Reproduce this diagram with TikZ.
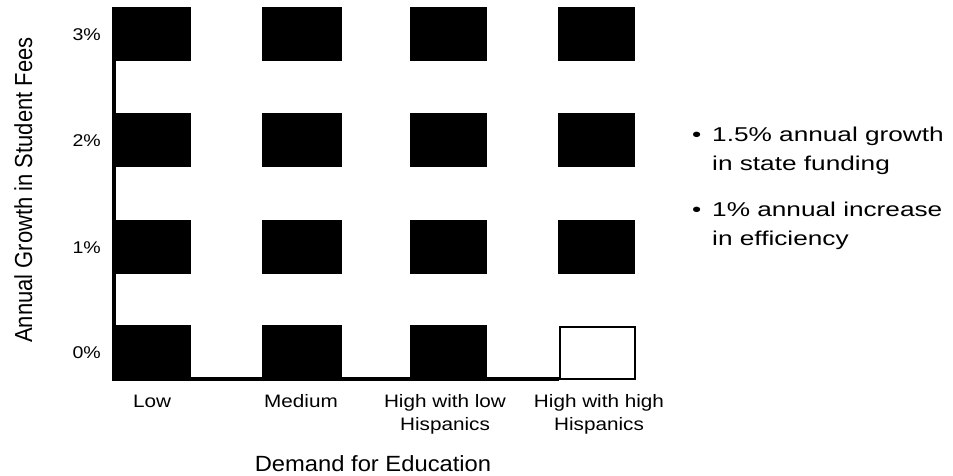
\documentclass[tikz,border=0pt]{standalone}
\usepackage{graphicx}
\usepackage{fontspec}
\setmainfont{Liberation Sans}
\newfontfamily\tickf{Liberation Sans}[FakeStretch=1.15]
\newfontfamily\bulf{Liberation Sans}[FakeStretch=1.31]
\newfontfamily\xtitf{Liberation Sans}[FakeStretch=1.08]
\begin{document}
\begin{tikzpicture}[x=1pt,y=-1pt,
  cell/.style={fill=black,draw=none,inner sep=0pt,minimum height=54pt,anchor=north west},
  emptycell/.style={fill=white,draw=black,line width=2pt,inner sep=0pt,minimum height=52pt,anchor=north west},
  axisline/.style={line width=4pt,draw=black},
  pct/.style={font={\tickf\fontsize{17}{20}\selectfont},anchor=east,inner sep=0pt},
  cat/.style={font={\tickf\fontsize{18}{23}\selectfont},align=center,anchor=base,inner sep=0pt},
  bul/.style={font={\bulf\fontsize{20}{29}\selectfont},align=left,anchor=base west,inner sep=0pt},
  ttl/.style={inner sep=0pt}]
\useasboundingbox (0,0) rectangle (953,475);
% axes
\coordinate (top) at (114,7);
\coordinate (origin) at (114,379);
\coordinate (xend) at (559,379);
\draw[axisline] (top) -- (origin) -- (xend);
% cells
\foreach \r/\ty in {3/7,2/113,1/220,0/325}{
  \node[cell,minimum width=79pt] (c\r-1) at (112,\ty) {};
  \node[cell,minimum width=80pt] (c\r-2) at (262,\ty) {};
  \node[cell,minimum width=77pt] (c\r-3) at (410,\ty) {};
}
\foreach \r/\ty in {3/7,2/113,1/220}{
  \node[cell,minimum width=77pt] (c\r-4) at (558,\ty) {};
}
\node[emptycell,minimum width=75pt] (c0-4) at (559,326) {};
% percent labels
\node[pct] (p3) at (101,35) {3\%};
\node[pct] (p2) at (101,141) {2\%};
\node[pct] (p1) at (101,248) {1\%};
\node[pct] (p0) at (101,353) {0\%};
% category labels
\node[cat] (l1) at (152,407) {Low};
\node[cat] (l2) at (301,407) {Medium};
\node[cat] (l3) at (445,430) {High with low\\Hispanics};
\node[cat] (l4) at (599,430) {High with high\\Hispanics};
% axis titles
\node[ttl,font={\xtitf\fontsize{22}{26}\selectfont},anchor=base] (xt) at (373,471) {Demand for Education};
\node[ttl,rotate=90,anchor=base] (yt) at (32,190) {\scalebox{1}[1.12]{\fontsize{22}{26}\selectfont Annual Growth in Student Fees}};
% bullets
\node[bul] (b1) at (692,170) {\makebox[20pt][l]{\textbullet}1.5\% annual growth\\\hspace*{20pt}in state funding};
\node[bul] (b2) at (692,245) {\makebox[20pt][l]{\textbullet}1\% annual increase\\\hspace*{20pt}in efficiency};
\end{tikzpicture}
\end{document}
